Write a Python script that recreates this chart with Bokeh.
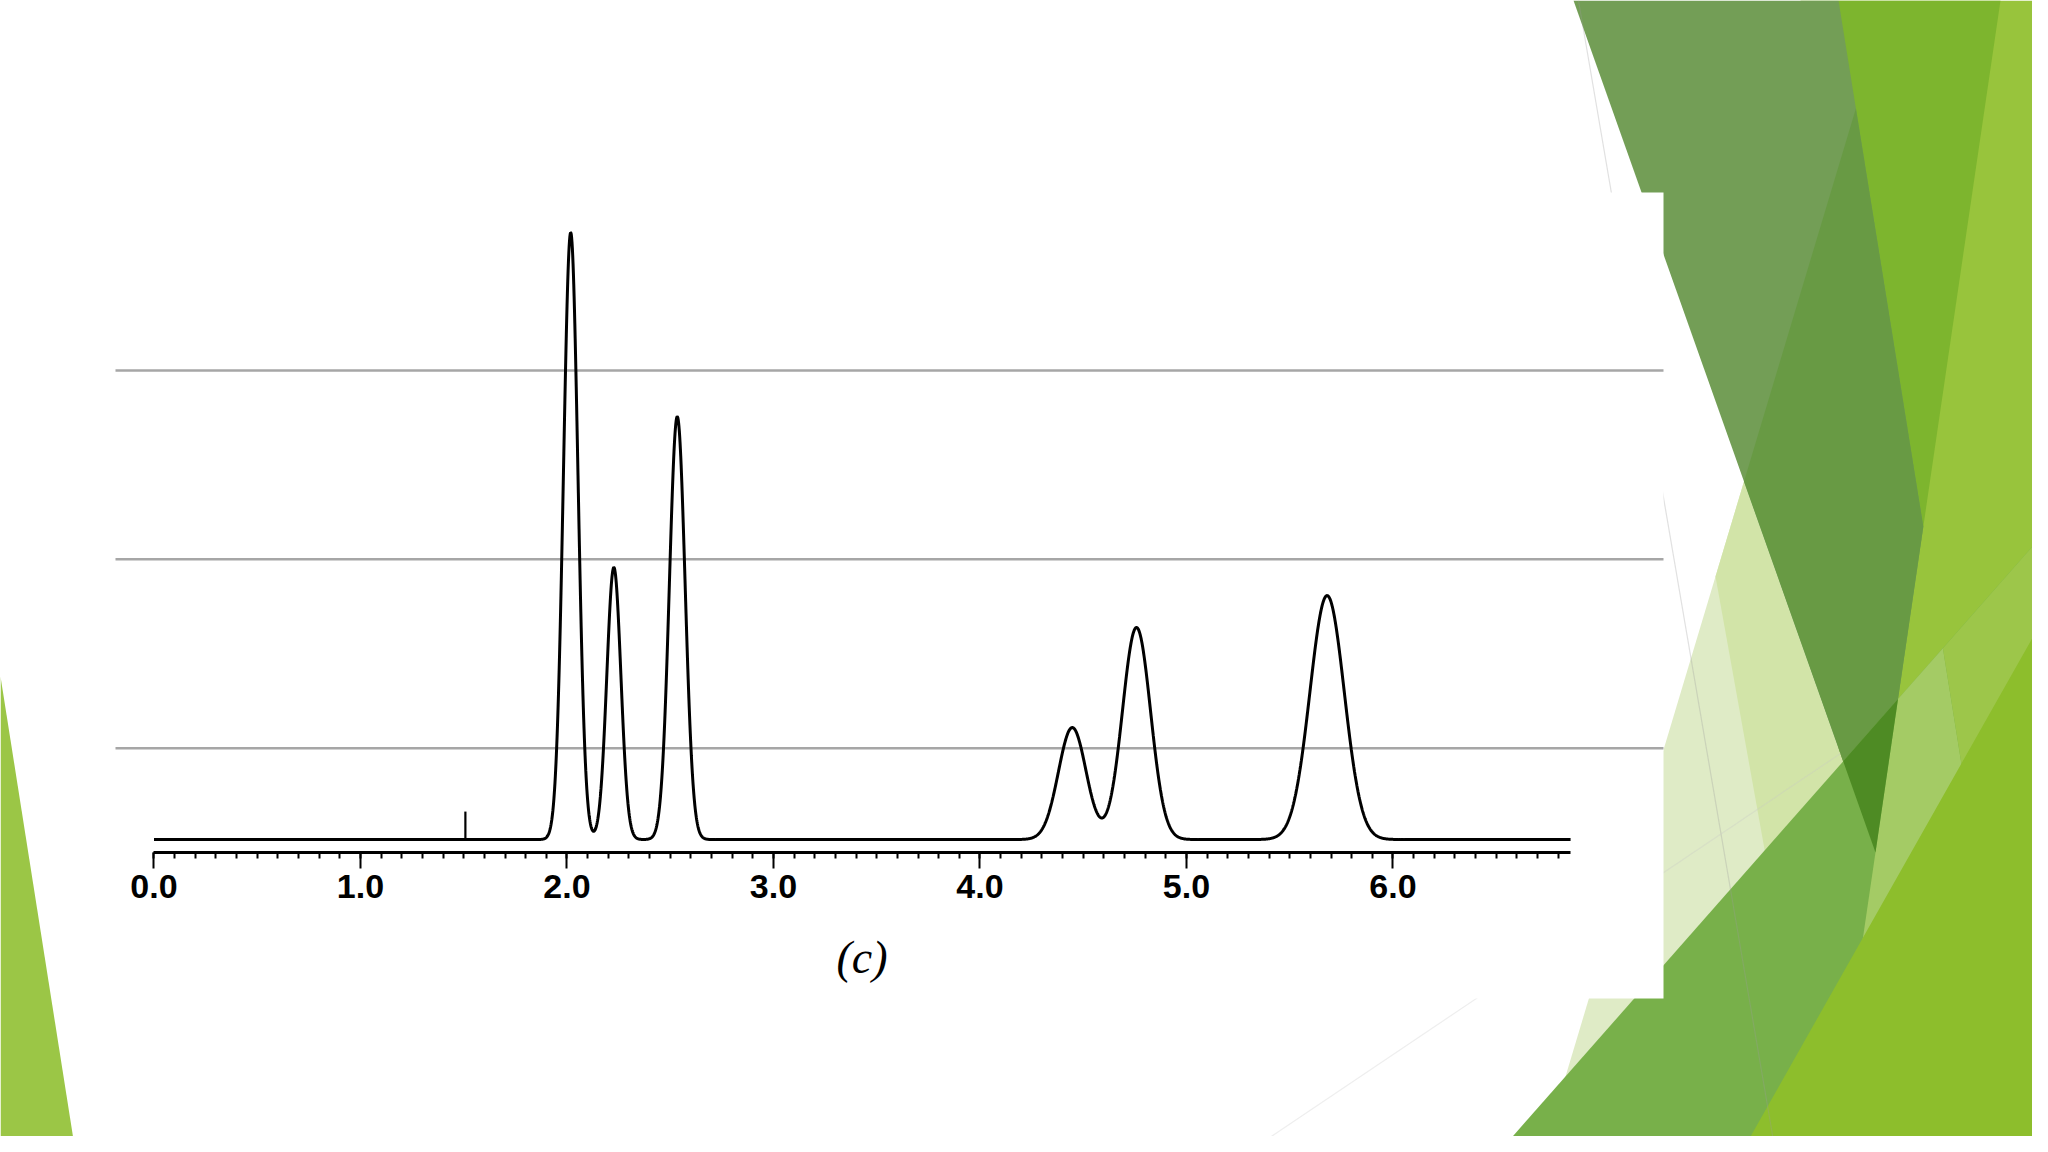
import numpy as np
from bokeh.plotting import figure
from bokeh.models import FixedTicker, NumeralTickFormatter, PolyAnnotation, Range1d
from bokeh.embed import file_html
from bokeh.resources import INLINE

# ---------------- data ----------------
retention_times = [2.018, 2.227, 2.534, 4.447, 4.758, 5.681]   # min
peak_heights    = [3.215, 1.441, 2.240, 0.593, 1.123, 1.292]   # detector units
peak_widths     = [0.035, 0.034, 0.038, 0.067, 0.068, 0.083]   # gaussian sigma, min
injection_time   = [1.508]
injection_height = [0.148]
run_start, run_end = 0.0, 6.86
axis_level   = -0.0689
grid_levels  = [0.484, 1.484, 2.484]
grid_span    = (-0.1864, 7.310)
major_ticks  = [0, 1, 2, 3, 4, 5, 6]
minor_ticks  = [round(0.1 * i, 1) for i in range(0, 69)]
axis_caption = "(c)"

# detector trace built from the peak table
t = np.linspace(run_start, run_end, 4000)
signal = np.zeros_like(t)
for rt, h, w in zip(retention_times, peak_heights, peak_widths):
    signal += h * np.exp(-0.5 * ((t - rt) / w) ** 2)

# ---------------- figure ----------------
W, H = 2032, 1136
p = figure(width=W, height=H, output_backend="svg", toolbar_location=None,
           x_range=Range1d(-0.7433, 9.097), y_range=Range1d(-1.573, 4.444),
           y_axis_location=None,
           min_border_left=0, min_border_right=0,
           min_border_top=0, min_border_bottom=0)
p.outline_line_color = None
p.background_fill_color = "white"
p.border_fill_color = "white"
p.xgrid.visible = False
p.ygrid.visible = False

# slide decoration (theme facets), in slide pixels, painted back to front
facets = [
    ([1838, 2060, 2060, 1838], [0, 0, 1160, 1160], "#98C43C"),
    ([1800, 2000, 1922.8, 1800], [0, 0, 526.2, 526.2], "#7DB52E"),
    ([1743.5, 1900, 1539.8], [481, 1160, 1160], "#DFEBC6"),
    ([1743.5, 1875, 1789.4, 1715], [481, 852, 990, 576], "#D2E4A8"),
    ([1573, 1838, 1922.8, 1875], [0, 0, 526.2, 852], "#739E56"),
    ([1855.4, 1922.8, 1875, 1743.5], [108, 526.2, 852, 481], "#689A44"),
    ([1491, 2060, 2060], [1160, 514.2, 1160], "#78B04A"),
    ([1897.5, 1942.4, 1962, 1860.6], [698.6, 647.7, 770, 950], "#A4CB65"),
    ([1942.4, 2060, 2060, 1962], [647.7, 514.2, 700, 770], "#9DC64A"),
    ([1842.7, 1897.5, 1875], [760.8, 698.6, 852], "#4E8B24"),
    ([1741, 2048, 2060, 2060, 1735], [1152, 609, 609, 1160, 1160], "#8DBE2C"),
    ([0, 75, 0], [676, 1152, 1152], "#9BC646"),
]
for xs, ys, col in facets:
    p.add_layout(PolyAnnotation(xs=xs, ys=ys, xs_units="canvas", ys_units="canvas",
                                fill_color=col, fill_alpha=1.0, line_color=None,
                                level="image"))
thin_lines = [([1578, 1775], [0, 1152], "#9A9A9A"), ([1247, 1840], [1152, 753], "#C8C8C8")]
for xs, ys, col in thin_lines:
    p.add_layout(PolyAnnotation(xs=xs, ys=ys, xs_units="canvas", ys_units="canvas",
                                fill_color=None, line_color=col, line_width=1.2,
                                level="image"))
# white picture panel
p.add_layout(PolyAnnotation(xs=[1100, 1663, 1663, 1100], ys=[192, 192, 998, 998],
                            xs_units="canvas", ys_units="canvas",
                            fill_color="white", fill_alpha=1.0, line_color=None,
                            level="image"))

# horizontal rules
n = len(grid_levels)
p.segment(x0=[grid_span[0]] * n, x1=[grid_span[1]] * n, y0=grid_levels, y1=grid_levels,
          line_color="#A6A6A6", line_width=2.5)

# trace
p.line(t, signal, line_color="black", line_width=3)
p.segment(x0=injection_time, y0=[0] * len(injection_time),
          x1=injection_time, y1=injection_height, line_color="black", line_width=2.2)

# time axis, drawn at a fixed level inside the plot area
ax = p.xaxis[0]
ax.fixed_location = axis_level
ax.ticker = FixedTicker(ticks=major_ticks, minor_ticks=minor_ticks)
ax.formatter = NumeralTickFormatter(format="0.0")
ax.bounds = (run_start, run_end)
ax.axis_line_color = "black"
ax.axis_line_width = 3
ax.major_tick_in = 0
ax.major_tick_out = 16
ax.major_tick_line_width = 2
ax.major_tick_line_color = "black"
ax.minor_tick_in = 0
ax.minor_tick_out = 6
ax.minor_tick_line_width = 2
ax.minor_tick_line_color = "black"
ax.major_label_text_font = "Liberation Sans"
ax.major_label_text_font_style = "bold"
ax.major_label_text_font_size = "34px"
ax.major_label_text_color = "black"
ax.major_label_standoff = 6
ax.axis_label = axis_caption
ax.axis_label_text_font = "Liberation Serif"
ax.axis_label_text_font_style = "italic"
ax.axis_label_text_font_size = "46px"
ax.axis_label_text_color = "black"
ax.axis_label_standoff = 31

open("out.html", "w").write(file_html(p, INLINE))
